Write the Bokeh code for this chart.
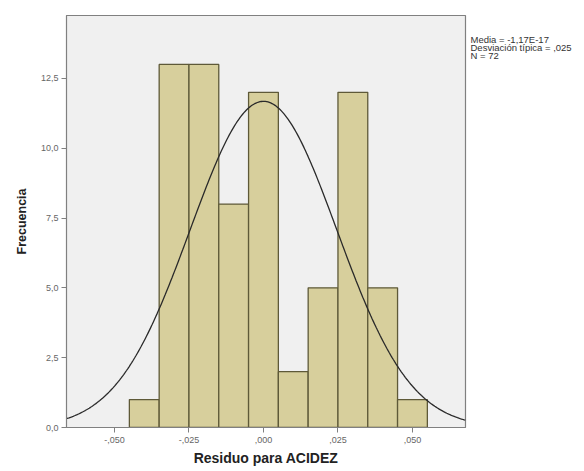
import numpy as np
from bokeh.plotting import figure
from bokeh.layouts import row
from bokeh.models import FixedTicker, Range1d
from bokeh.core.properties import value
from bokeh.embed import file_html
from bokeh.resources import INLINE

# Histogram of residuals for ACIDEZ (bin width 0.01)
bin_left = [-0.045, -0.035, -0.025, -0.015, -0.005, 0.005, 0.015, 0.025, 0.035, 0.045]
bin_right = [-0.035, -0.025, -0.015, -0.005, 0.005, 0.015, 0.025, 0.035, 0.045, 0.055]
counts = [1, 13, 13, 8, 12, 2, 5, 12, 5, 1]

# Summary statistics
mean = -1.17e-17
std = 0.0246
n = 72
bin_width = 0.01

x_ticks = [-0.05, -0.025, 0.0, 0.025, 0.05]
x_labels = ["-,050", "-,025", ",000", ",025", ",050"]
y_ticks = [0.0, 2.5, 5.0, 7.5, 10.0, 12.5]
y_labels = ["0,0", "2,5", "5,0", "7,5", "10,0", "12,5"]
stats_lines = ["Media = -1,17E-17", "Desviación típica = ,025", "N = 72"]

FONT = "Liberation Sans"

p = figure(width=467, height=471, output_backend="svg", toolbar_location=None,
           x_range=Range1d(-0.0661, 0.0678), y_range=Range1d(0, 14.75),
           min_border_left=66, min_border_right=2, min_border_top=15,
           min_border_bottom=44)

p.background_fill_color = "#f0f0f0"
p.border_fill_color = "white"
p.outline_line_color = "#808080"
p.outline_line_width = 1.2
p.grid.visible = False

p.quad(left=bin_left, right=bin_right, bottom=0, top=counts,
       fill_color="#d7cf9c", line_color="#5e5938", line_width=1.3)

# Fitted normal curve scaled to frequency
xs = np.linspace(-0.0661, 0.0678, 300)
ys = n * bin_width / (std * np.sqrt(2 * np.pi)) * np.exp(-0.5 * ((xs - mean) / std) ** 2)
p.line(xs, ys, line_color="#2a2a2a", line_width=1.3)

for ax in (p.xaxis, p.yaxis):
    ax.axis_line_color = "#808080"
    ax.major_tick_line_color = "#808080"
    ax.major_tick_out = 5
    ax.major_tick_in = 0
    ax.minor_tick_line_color = None
    ax.major_label_text_font = FONT
    ax.major_label_text_font_size = "9px"
    ax.major_label_text_color = "#666666"
    ax.axis_label_text_font = FONT
    ax.axis_label_text_font_style = "bold"
    ax.axis_label_text_color = "#222222"

p.xaxis.ticker = FixedTicker(ticks=x_ticks)
p.xaxis.major_label_overrides = dict(zip(x_ticks, x_labels))
p.xaxis.axis_label = "Residuo para ACIDEZ"
p.xaxis.axis_label_text_font_size = "14px"
p.xaxis.axis_label_standoff = 4
p.xaxis.major_label_standoff = 4

p.yaxis.ticker = FixedTicker(ticks=y_ticks)
p.yaxis.major_label_overrides = dict(zip(y_ticks, y_labels))
p.yaxis.axis_label = "Frecuencia"
p.yaxis.axis_label_text_font_size = "12.5px"
p.yaxis.axis_label_standoff = 9
p.yaxis.major_label_standoff = 3

# Side panel holding the summary statistics (pixel-like coordinates, y downward)
side = figure(width=117, height=471, output_backend="svg", toolbar_location=None,
              title=None, x_range=Range1d(0, 117), y_range=Range1d(471, 0),
              min_border_left=0, min_border_right=0, min_border_top=0,
              min_border_bottom=0)
side.axis.visible = False
side.grid.visible = False
side.outline_line_color = None
side.background_fill_color = "white"
side.text(x=[3, 3, 3], y=[28, 37, 46], text=stats_lines,
          text_font=value(FONT), text_font_size="9.5px",
          text_color="#333333", text_baseline="middle")

layout = row(p, side, spacing=0)
open("out.html", "w").write(file_html(layout, INLINE))
